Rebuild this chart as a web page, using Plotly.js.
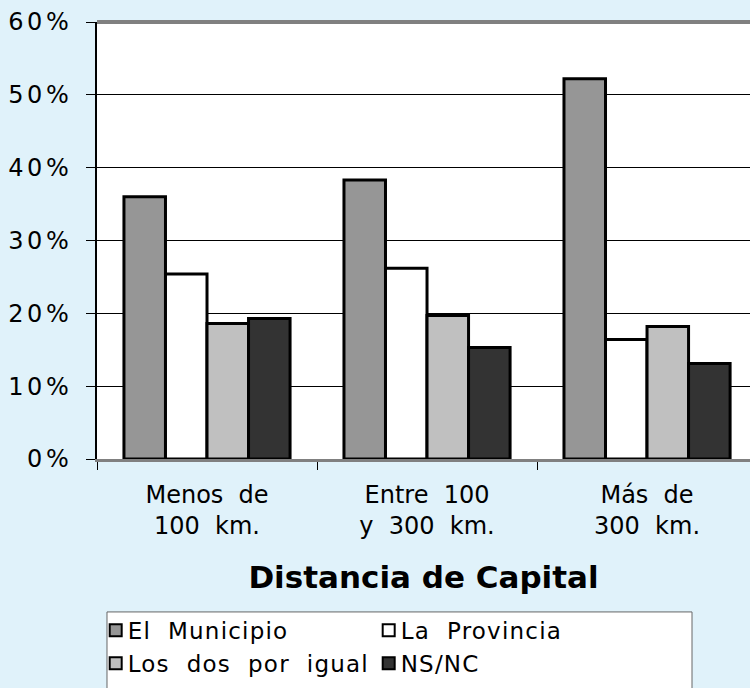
<!DOCTYPE html>
<html>
<head>
<meta charset="utf-8">
<script src="https://cdn.plot.ly/plotly-3.0.1.min.js"></script>
<style>
html,body{margin:0;padding:0;background:#E0F2FA;}
#chart .ytick text{letter-spacing:3.5px;}
#chart .legend .legendtext{letter-spacing:1.2px;transform:translateX(-8px);}
#chart .legend .legendpoints path{stroke-width:2px !important;}
</style>
</head>
<body>
<div id="chart" style="width:750px;height:688px;"></div>
<script>
var categories = [
  "Menos\u00a0\u00a0de<br>100\u00a0\u00a0km.",
  "Entre\u00a0\u00a0100<br>y\u00a0\u00a0300\u00a0\u00a0km.",
  "Más\u00a0\u00a0de<br>300\u00a0\u00a0km."
];
var seriesNames = ["El\u00a0\u00a0Municipio", "La\u00a0\u00a0Provincia", "Los\u00a0\u00a0dos\u00a0\u00a0por\u00a0\u00a0igual", "NS/NC"];
var elMunicipio = [36.0, 38.3, 52.2];
var laProvincia = [25.4, 26.2, 16.4];
var losDos = [18.6, 19.7, 18.2];
var nsnc = [19.3, 15.3, 13.1];
var seriesColors = ["#969696", "#FFFFFF", "#C0C0C0", "#333333"];
var yTickVals = [0, 10, 20, 30, 40, 50, 60];
var yTickText = ["0%", "10%", "20%", "30%", "40%", "50%", "60%"];

var font = "DejaVu Sans, Verdana, sans-serif";
var allValues = [elMunicipio, laProvincia, losDos, nsnc];
var traces = allValues.map(function (vals, i) {
  return {
    type: "bar",
    x: categories,
    y: vals,
    name: seriesNames[i],
    marker: {color: seriesColors[i], line: {color: "#000000", width: 3}},
    hoverinfo: "none"
  };
});

var layout = {
  width: 750, height: 688,
  paper_bgcolor: "#E0F2FA",
  plot_bgcolor: "#FFFFFF",
  margin: {l: 97, r: 0, t: 22, b: 229, autoexpand: false},
  barmode: "group",
  bargap: 0.245,
  bargroupgap: 0,
  font: {family: font, size: 22, color: "#000000"},
  showlegend: true,
  legend: {
    orientation: "h",
    x: -0.002, xanchor: "left",
    y: -0.343, yanchor: "top",
    bgcolor: "rgba(0,0,0,0)",
    borderwidth: 0,
    entrywidth: 228,
    itemwidth: 30,
    font: {family: font, size: 23, color: "#000000"},
    traceorder: "normal"
  },
  xaxis: {
    type: "category",
    range: [-0.5, 2.468],
    showgrid: false,
    showline: true, linecolor: "#808080", linewidth: 3,
    ticks: "outside", tickson: "boundaries", ticklen: 8, tickcolor: "#000000", tickwidth: 1,
    ticklabelstandoff: 12,
    tickfont: {family: font, size: 24, color: "#000000"},
    title: {text: "Distancia de Capital", font: {family: font, size: 31, color: "#000000", weight: "bold"}, standoff: 28},
    automargin: false
  },
  yaxis: {
    range: [0, 60],
    tickvals: yTickVals,
    ticktext: yTickText,
    showgrid: true, gridcolor: "#000000", gridwidth: 1,
    showline: true, linecolor: "#000000", linewidth: 2,
    ticks: "outside", ticklen: 9, tickcolor: "#000000", tickwidth: 1,
    ticklabelstandoff: 9,
    tickfont: {family: font, size: 24, color: "#000000"},
    zeroline: false,
    automargin: false
  },
  shapes: [
    {type: "line", xref: "paper", yref: "paper", x0: 0, x1: 1, y0: 1, y1: 1, line: {color: "#808080", width: 4}},
    {type: "rect", xref: "paper", yref: "paper", x0: 0.0153, x1: 0.9112, y0: -0.35, y1: -0.56, fillcolor: "#FFFFFF", line: {color: "#666666", width: 1}, layer: "below"}
  ]
};

Plotly.newPlot("chart", traces, layout, {staticPlot: true, displayModeBar: false});
</script>
</body>
</html>
